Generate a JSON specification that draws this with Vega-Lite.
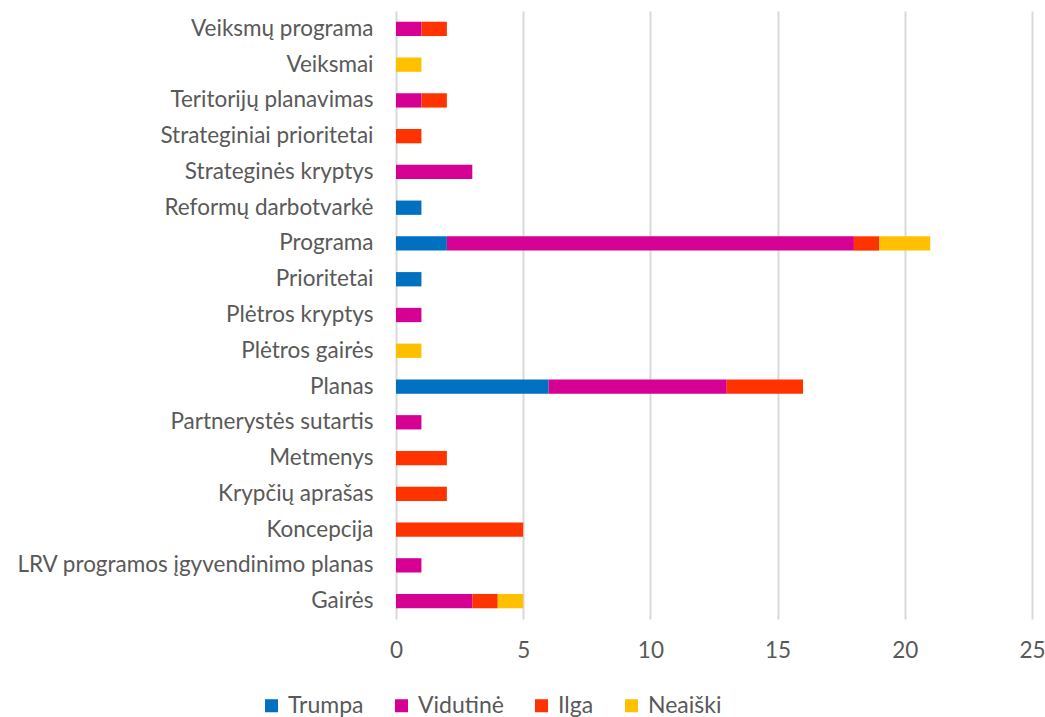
{
  "$schema": "https://vega.github.io/schema/vega-lite/v6.json",
  "autosize": {"type": "none"},
  "padding": {"left": 396, "top": 11, "right": 13, "bottom": 98},
  "width": 636,
  "height": 608,
  "background": "white",
  "config": {
    "font": "Lato",
    "view": {"stroke": null},
    "axis": {"labelColor": "#595959", "labelFontSize": 22.5, "labelFont": "Lato"},
    "legend": {"labelColor": "#595959", "labelFontSize": 23, "labelFont": "Lato"}
  },
  "data": {
    "values": [
      {"category": "Veiksmų programa", "type": "Vidutinė", "value": 1},
      {"category": "Veiksmų programa", "type": "Ilga", "value": 1},
      {"category": "Veiksmai", "type": "Neaiški", "value": 1},
      {"category": "Teritorijų planavimas", "type": "Vidutinė", "value": 1},
      {"category": "Teritorijų planavimas", "type": "Ilga", "value": 1},
      {"category": "Strateginiai prioritetai", "type": "Ilga", "value": 1},
      {"category": "Strateginės kryptys", "type": "Vidutinė", "value": 3},
      {"category": "Reformų darbotvarkė", "type": "Trumpa", "value": 1},
      {"category": "Programa", "type": "Trumpa", "value": 2},
      {"category": "Programa", "type": "Vidutinė", "value": 16},
      {"category": "Programa", "type": "Ilga", "value": 1},
      {"category": "Programa", "type": "Neaiški", "value": 2},
      {"category": "Prioritetai", "type": "Trumpa", "value": 1},
      {"category": "Plėtros kryptys", "type": "Vidutinė", "value": 1},
      {"category": "Plėtros gairės", "type": "Neaiški", "value": 1},
      {"category": "Planas", "type": "Trumpa", "value": 6},
      {"category": "Planas", "type": "Vidutinė", "value": 7},
      {"category": "Planas", "type": "Ilga", "value": 3},
      {"category": "Partnerystės sutartis", "type": "Vidutinė", "value": 1},
      {"category": "Metmenys", "type": "Ilga", "value": 2},
      {"category": "Krypčių aprašas", "type": "Ilga", "value": 2},
      {"category": "Koncepcija", "type": "Ilga", "value": 5},
      {"category": "LRV programos įgyvendinimo planas", "type": "Vidutinė", "value": 1},
      {"category": "Gairės", "type": "Vidutinė", "value": 3},
      {"category": "Gairės", "type": "Ilga", "value": 1},
      {"category": "Gairės", "type": "Neaiški", "value": 1}
    ]
  },
  "transform": [
    {"calculate": "indexof(['Trumpa', 'Vidutinė', 'Ilga', 'Neaiški'], datum.type)", "as": "stackOrder"}
  ],
  "mark": {"type": "bar"},
  "encoding": {
    "y": {
      "field": "category",
      "type": "nominal",
      "sort": ["Veiksmų programa", "Veiksmai", "Teritorijų planavimas", "Strateginiai prioritetai", "Strateginės kryptys", "Reformų darbotvarkė", "Programa", "Prioritetai", "Plėtros kryptys", "Plėtros gairės", "Planas", "Partnerystės sutartis", "Metmenys", "Krypčių aprašas", "Koncepcija", "LRV programos įgyvendinimo planas", "Gairės"],
      "scale": {"paddingInner": 0.6, "paddingOuter": 0.3},
      "axis": {"title": null, "ticks": false, "domain": false, "labelPadding": 23, "grid": false, "labelLimit": 400}
    },
    "x": {
      "field": "value",
      "type": "quantitative",
      "stack": "zero",
      "scale": {"domain": [0, 25], "nice": false},
      "axis": {"title": null, "values": [0, 5, 10, 15, 20, 25], "ticks": false, "domain": false, "grid": true, "gridColor": "#d9d9d9", "gridWidth": 2, "labelPadding": 20, "labelFlush": false}
    },
    "order": {"field": "stackOrder", "type": "quantitative", "sort": "ascending"},
    "color": {
      "field": "type",
      "type": "nominal",
      "sort": ["Trumpa", "Vidutinė", "Ilga", "Neaiški"],
      "scale": {"domain": ["Trumpa", "Vidutinė", "Ilga", "Neaiški"], "range": ["#0070C0", "#D60093", "#FF3300", "#FFC000"]},
      "legend": {"title": null, "orient": "none", "direction": "horizontal", "legendX": -136, "legendY": 683, "symbolType": "square", "symbolSize": 170, "symbolOpacity": 1, "symbolStrokeWidth": 0, "columnPadding": 26, "labelOffset": 5}
    }
  }
}
